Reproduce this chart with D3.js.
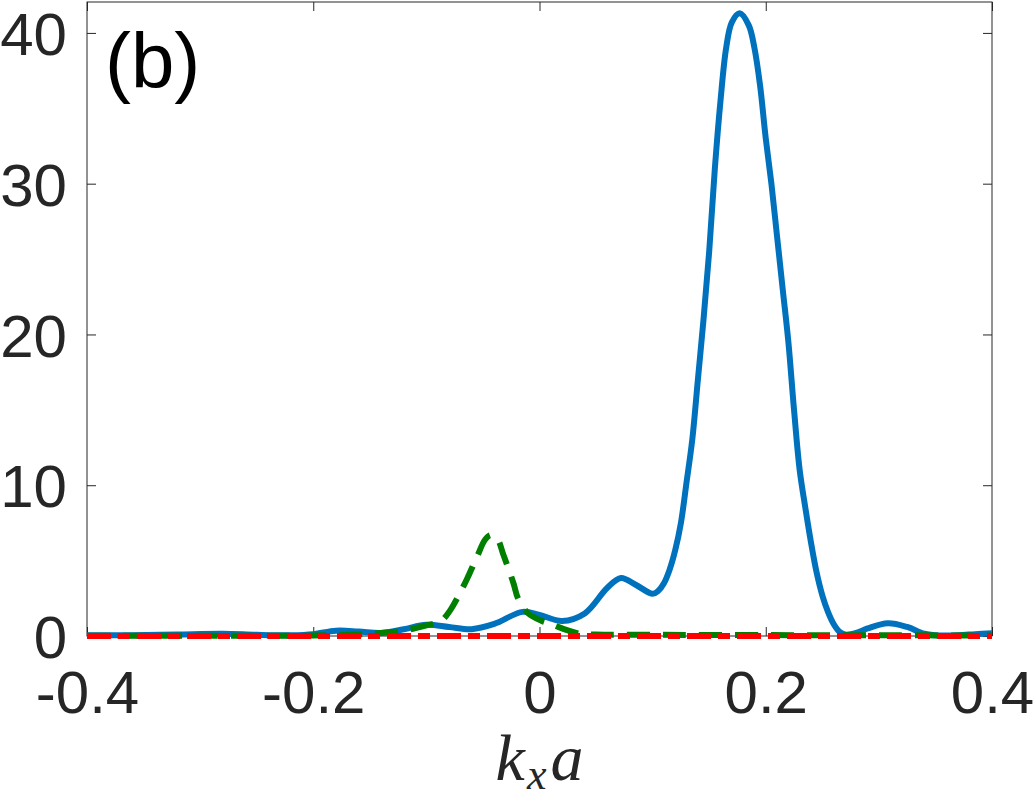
<!DOCTYPE html>
<html>
<head>
<meta charset="utf-8">
<script src="https://cdn.jsdelivr.net/npm/d3@7"></script>
<style>
  body { margin: 0; background: #fff; }
  svg { display: block; }
</style>
</head>
<body>
<script>
"use strict";

// blue solid curve [kx a, value]
const blueData = [
  [-0.40, 0.05], [-0.36, 0.05], [-0.32, 0.1], [-0.28, 0.15], [-0.25, 0.08],
  [-0.22, 0.05], [-0.20, 0.12], [-0.18, 0.35], [-0.16, 0.3], [-0.14, 0.2],
  [-0.12, 0.45], [-0.10, 0.75], [-0.08, 0.6], [-0.06, 0.45], [-0.04, 0.8],
  [-0.015, 1.6], [0.0, 1.4], [0.02, 1.0], [0.04, 1.5], [0.06, 3.2],
  [0.072, 3.85], [0.085, 3.4], [0.10, 2.8], [0.105, 3.0], [0.11, 3.5],
  [0.115, 4.4], [0.12, 5.7], [0.125, 7.5], [0.13, 10.2], [0.135, 13],
  [0.14, 17], [0.145, 21], [0.15, 25.5], [0.155, 31], [0.16, 35.5],
  [0.165, 39], [0.17, 40.7], [0.177, 41.3], [0.185, 40.5], [0.19, 39],
  [0.195, 36.5], [0.20, 33], [0.205, 30], [0.21, 26.5], [0.215, 23],
  [0.22, 19.5], [0.225, 15], [0.23, 11], [0.235, 8.5], [0.24, 6.2],
  [0.245, 4.2], [0.25, 2.7], [0.255, 1.6], [0.26, 0.8], [0.265, 0.3],
  [0.27, 0.1], [0.28, 0.2], [0.29, 0.5], [0.308, 0.85], [0.325, 0.6],
  [0.34, 0.15], [0.35, 0.05], [0.37, 0.05], [0.385, 0.12], [0.40, 0.18]
];

// green dashed curve
const greenData = [
  [-0.40, 0.02], [-0.30, 0.02], [-0.20, 0.03], [-0.16, 0.1], [-0.14, 0.2],
  [-0.12, 0.35], [-0.10, 0.7], [-0.087, 1.0], [-0.079, 1.7], [-0.07, 2.9],
  [-0.064, 3.8], [-0.055, 5.3], [-0.048, 6.4], [-0.043, 6.7], [-0.037, 6.4],
  [-0.032, 5.4], [-0.023, 3.5], [-0.019, 2.5], [-0.01, 1.5], [0.002, 1.0],
  [0.01, 0.8], [0.02, 0.5], [0.036, 0.15], [0.05, 0.1], [0.10, 0.08],
  [0.20, 0.06], [0.30, 0.05], [0.40, 0.03]
];

// red dash-dot curve (flat at zero)
const redData = [
  [-0.40, 0], [-0.30, 0], [-0.20, 0], [-0.10, 0], [0.0, 0],
  [0.10, 0], [0.20, 0], [0.30, 0], [0.40, 0]
];

const xTicks = [-0.4, -0.2, 0, 0.2, 0.4];
const yTicks = [0, 10, 20, 30, 40];

const W = 1034, H = 798;
const margin = { left: 87, right: 42, top: 2, bottom: 162 };
const iw = W - margin.left - margin.right;
const ih = H - margin.top - margin.bottom;

const svg = d3.select("body").append("svg")
  .attr("width", W)
  .attr("height", H);

const x = d3.scaleLinear().domain([-0.4, 0.4]).range([0, iw]);
const y = d3.scaleLinear().domain([0, 42.05]).range([ih, 0]);

const g = svg.append("g")
  .attr("transform", `translate(${margin.left},${margin.top})`);

const axisColor = "#262626";
const tickFont = "'Liberation Sans', Arial, Helvetica, sans-serif";

// axes (ticks inward, mirrored on top/right)
const xb = g.append("g").attr("transform", `translate(0,${ih})`)
  .call(d3.axisBottom(x).tickValues(xTicks).tickSizeInner(-9).tickSizeOuter(0)
    .tickFormat(d => d === 0 ? "0" : d3.format(".1f")(d).replace("\u2212", "-")));
const xt = g.append("g")
  .call(d3.axisTop(x).tickValues(xTicks).tickSizeInner(-9).tickSizeOuter(0).tickFormat(""));
const yl = g.append("g")
  .call(d3.axisLeft(y).tickValues(yTicks).tickSizeInner(-9).tickSizeOuter(0)
    .tickPadding(20).tickFormat(d3.format("d")));
const yr = g.append("g").attr("transform", `translate(${iw},0)`)
  .call(d3.axisRight(y).tickValues(yTicks).tickSizeInner(-9).tickSizeOuter(0).tickFormat(""));

[xb, xt, yl, yr].forEach(a => {
  a.select(".domain").remove();
  a.selectAll("line").attr("stroke", axisColor).attr("stroke-width", 1);
  a.selectAll("text")
    .attr("fill", axisColor)
    .style("font-family", tickFont)
    .style("font-size", "60px");
});
xb.selectAll("text").attr("dy", "0.71em").attr("y", 34);
yl.selectAll("text").attr("dy", "0.36em");

g.append("rect")
  .attr("x", 0).attr("y", 0)
  .attr("width", iw).attr("height", ih)
  .attr("fill", "none")
  .attr("stroke", axisColor)
  .attr("stroke-width", 1);

const line = d3.line()
  .x(d => x(d[0]))
  .y(d => y(d[1]))
  .curve(d3.curveCatmullRom.alpha(0.5));

const plot = g.append("g");

plot.append("path")
  .datum(blueData)
  .attr("d", line)
  .attr("fill", "none")
  .attr("stroke", "#0072BD")
  .attr("stroke-width", 6)
  .attr("stroke-linejoin", "round");

plot.append("path")
  .datum(greenData)
  .attr("d", line)
  .attr("fill", "none")
  .attr("stroke", "#007F00")
  .attr("stroke-width", 6)
  .attr("stroke-dasharray", "23,13");

plot.append("path")
  .datum(redData)
  .attr("d", line)
  .attr("fill", "none")
  .attr("stroke", "#FF0000")
  .attr("stroke-width", 6)
  .attr("stroke-dasharray", "24,7,12,7");

// panel label
g.append("text")
  .attr("x", 18)
  .attr("y", 86)
  .attr("fill", "#000")
  .style("font-family", tickFont)
  .style("font-size", "78px")
  .text("(b)");

// x axis label k_x a
const xl = svg.append("text")
  .attr("x", margin.left + iw / 2)
  .attr("y", 780)
  .attr("text-anchor", "middle")
  .attr("fill", axisColor)
  .style("font-family", "'Liberation Serif', 'DejaVu Serif', serif")
  .style("font-style", "italic")
  .style("font-size", "66px");
xl.append("tspan").text("k");
xl.append("tspan").attr("dy", 9).attr("dx", 2).style("font-size", "44px").text("x");
xl.append("tspan").attr("dy", -9).attr("dx", 4).text("a");
</script>
</body>
</html>
